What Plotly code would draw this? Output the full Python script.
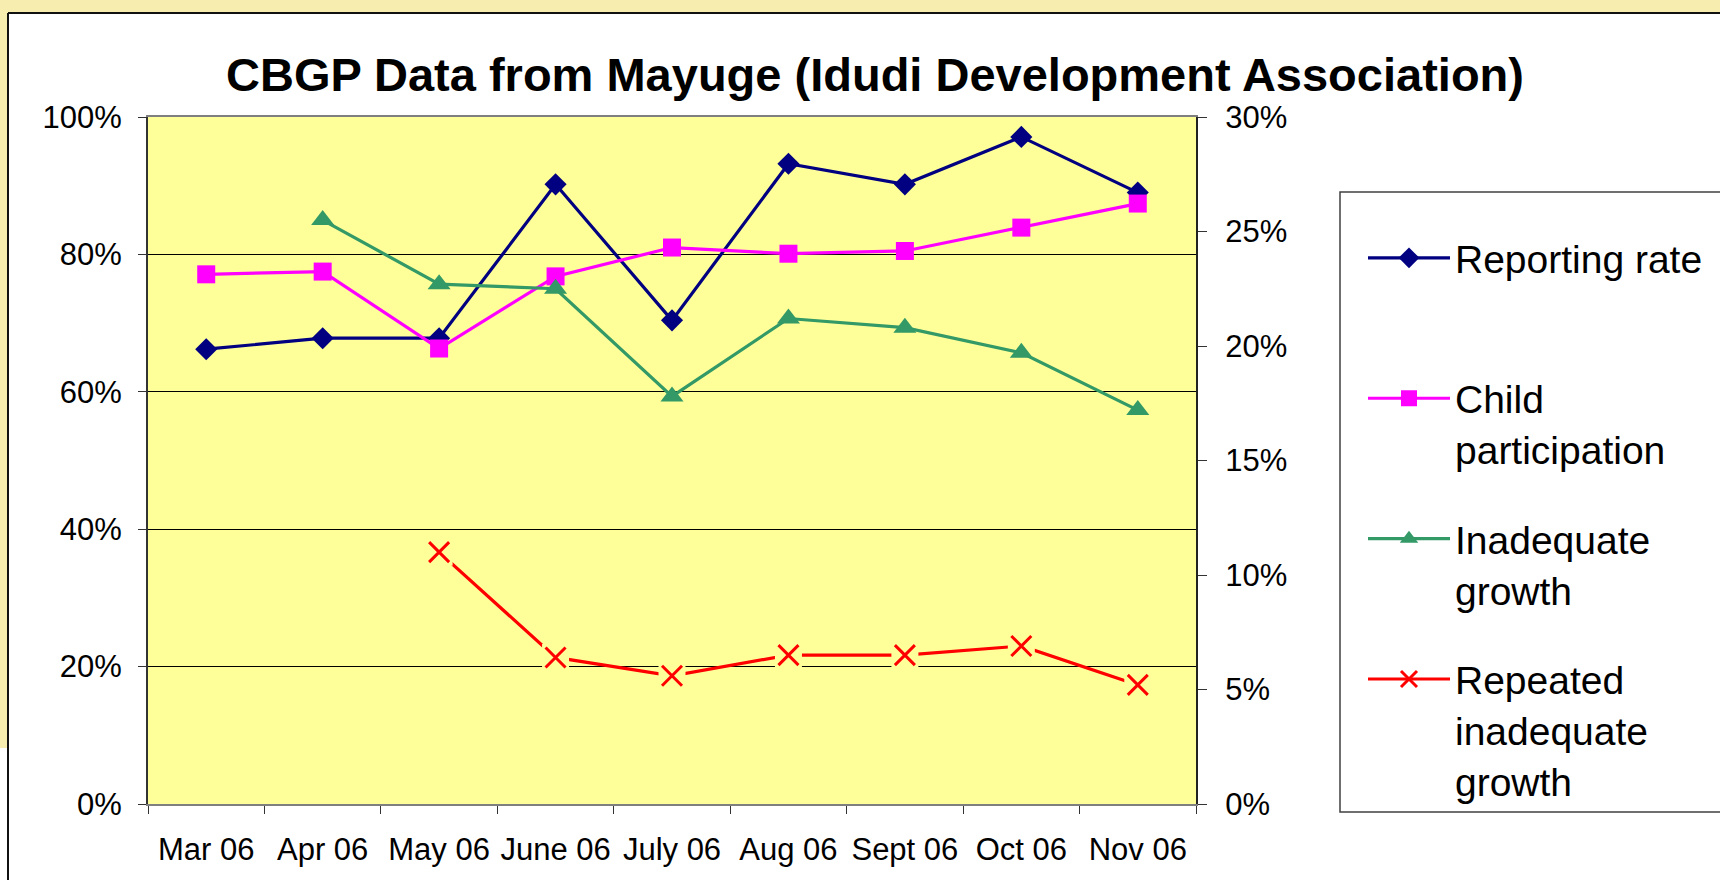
import plotly.graph_objects as go

months = ["Mar 06", "Apr 06", "May 06", "June 06", "July 06", "Aug 06", "Sept 06", "Oct 06", "Nov 06"]
reporting_rate = [66.2, 67.8, 67.8, 90.2, 70.4, 93.2, 90.2, 97.1, 89.0]
child_participation = [77.1, 77.5, 66.3, 76.8, 81.0, 80.1, 80.5, 83.9, 87.4]
inadequate_growth = [None, 25.5, 22.7, 22.5, 17.8, 21.2, 20.8, 19.7, 17.2]
repeated_inadequate = [None, None, 11.0, 6.4, 5.6, 6.5, 6.5, 6.9, 5.2]

W, H = 1720, 880
L, R, T, B = 148, 1196, 117, 804


def px(x):
    return (x - L) / (R - L)


def py(y):
    return (B - y) / (B - T)


FONT = "Liberation Sans, Arial, sans-serif"
PLOT_BG = "#FFFF99"
PAGE_YELLOW = "#F6EDAE"

fig = go.Figure()

fig.add_trace(go.Scatter(
    x=months, y=reporting_rate, name="Reporting rate<br> ", mode="lines+markers",
    line=dict(color="#000080", width=3.2),
    marker=dict(symbol="diamond", size=17, color="#000080"),
    legendgroup="g1", yaxis="y"))
fig.add_trace(go.Scatter(
    x=months, y=child_participation, name="Child<br>participation", mode="lines+markers",
    line=dict(color="#FF00FF", width=3.2),
    marker=dict(symbol="square", size=18, color="#FF00FF"),
    legendgroup="g2", yaxis="y"))
fig.add_trace(go.Scatter(
    x=months, y=inadequate_growth, name="Inadequate<br>growth", mode="lines+markers",
    line=dict(color="#339966", width=3.2),
    marker=dict(symbol="triangle-up", size=20, color="#339966"),
    legendgroup="g3", yaxis="y2"))
# red line, then background squares (marker fill = plot colour), then the x markers
fig.add_trace(go.Scatter(
    x=months, y=repeated_inadequate, mode="lines", showlegend=False,
    line=dict(color="#FF0000", width=3.2), yaxis="y2", hoverinfo="skip", legendgroup="g4"))
fig.add_trace(go.Scatter(
    x=months, y=repeated_inadequate, mode="markers", showlegend=False,
    marker=dict(symbol="square", size=27, color=PLOT_BG), yaxis="y2", hoverinfo="skip",
    legendgroup="g4"))
fig.add_trace(go.Scatter(
    x=months, y=repeated_inadequate, mode="markers", showlegend=False,
    marker=dict(symbol="x-thin", size=20, color="#FF0000",
                line=dict(color="#FF0000", width=3)), yaxis="y2", legendgroup="g4"))
# legend entry for the red series
fig.add_trace(go.Scatter(
    x=[None], y=[None], name="Repeated<br>inadequate<br>growth", mode="lines+markers",
    line=dict(color="#FF0000", width=3),
    marker=dict(symbol="x-thin", size=16, color="#FF0000",
                line=dict(color="#FF0000", width=3)),
    legendgroup="g4", yaxis="y2"))

shapes = [
    # page background strips
    dict(type="rect", xref="paper", yref="paper", x0=px(0), x1=px(W), y0=py(13), y1=py(0),
         fillcolor=PAGE_YELLOW, line=dict(width=0), layer="above"),
    dict(type="rect", xref="paper", yref="paper", x0=px(0), x1=px(8), y0=py(748), y1=py(0),
         fillcolor=PAGE_YELLOW, line=dict(width=0), layer="above"),
    dict(type="line", xref="paper", yref="paper", x0=px(8), x1=px(W), y0=py(13), y1=py(13),
         line=dict(color="#111111", width=2), layer="above"),
    dict(type="line", xref="paper", yref="paper", x0=px(8), x1=px(8), y0=py(13), y1=py(H),
         line=dict(color="#111111", width=2), layer="above"),
    # legend box
    dict(type="rect", xref="paper", yref="paper", x0=px(1340), x1=px(1730), y0=py(812), y1=py(192),
         fillcolor="white", line=dict(color="#404040", width=1.5), layer="above"),
]

fig.update_layout(
    width=W, height=H,
    margin=dict(l=L, r=W - R, t=T, b=H - B, pad=0, autoexpand=False),
    paper_bgcolor="white", plot_bgcolor=PLOT_BG,
    font=dict(family=FONT, color="black", size=31),
    title=dict(text="<b>CBGP Data from Mayuge (Idudi Development Association)</b>",
               x=875 / W, xanchor="center", y=1 - 75 / H, yanchor="middle",
               font=dict(family=FONT, size=47, color="black"), automargin=False),
    xaxis=dict(type="category", categoryorder="array", categoryarray=months,
               range=[-0.5, len(months) - 0.5],
               tickson="boundaries", ticks="outside", ticklen=8, tickcolor="#333333",
               showline=True, linecolor="#7F7F7F", linewidth=2, mirror=True,
               showgrid=False, zeroline=False, ticklabelstandoff=17, tickangle=0,
               automargin=False, tickfont=dict(size=31), fixedrange=True),
    yaxis=dict(range=[0, 100], dtick=20, ticksuffix="%", ticks="outside", ticklen=8,
               tickcolor="#333333", showline=True, linecolor="#333333", linewidth=2,
               showgrid=True, gridcolor="#000000", gridwidth=1, zeroline=False,
               automargin=False, ticklabelstandoff=10, tickfont=dict(size=31)),
    yaxis2=dict(range=[0, 30], dtick=5, ticksuffix="%", overlaying="y", side="right",
                ticks="outside", ticklen=9, tickcolor="#333333", showline=True,
                linecolor="#222222", linewidth=2, showgrid=False, zeroline=False,
                automargin=False, ticklabelstandoff=12, tickfont=dict(size=31)),
    legend=dict(x=px(1363), y=py(226), xanchor="left", yanchor="top",
                bgcolor="rgba(0,0,0,0)", borderwidth=0, itemwidth=82,
                valign="top", tracegroupgap=36, traceorder="grouped",
                font=dict(family=FONT, size=39, color="black")),
    shapes=shapes,
    showlegend=True,
)

fig.write_html("out.html", post_script="document.body.style.margin='0';",
               config={"displayModeBar": False})
